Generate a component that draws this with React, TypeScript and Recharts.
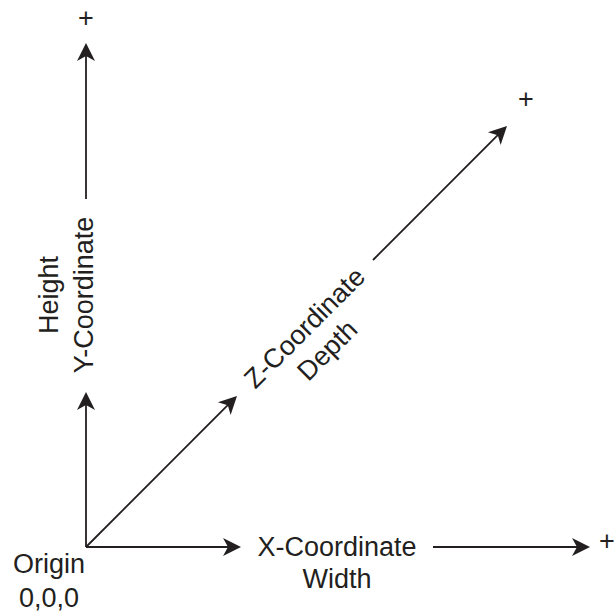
import React from 'react';
import { ReferenceLine, Scatter, ScatterChart, XAxis, YAxis } from 'recharts';

// diagram units: origin at 0,0, x grows right, y grows up
const xAxisArrows = [
  { from: { x: 0, y: 0 }, to: { x: 155, y: 0 } },
  { from: { x: 347, y: 0 }, to: { x: 504, y: 0 } },
];
const yAxisArrows = [
  { from: { x: 0, y: 0 }, to: { x: 0, y: 155 } },
  { from: { x: 0, y: 348 }, to: { x: 0, y: 504 } },
];
const zAxisArrows = [
  { from: { x: 0, y: 0 }, to: { x: 151, y: 151 } },
  { from: { x: 287, y: 287 }, to: { x: 421, y: 421 } },
];

const axisLabels = [
  { x: 251, y: -16, angle: 0, gap: 32, lines: ['X-Coordinate', 'Width'] },
  { x: -20, y: 252, angle: -90, gap: 35, lines: ['Height', 'Y-Coordinate'] },
  { x: 230, y: 208, angle: -45, gap: 32, lines: ['Z-Coordinate', 'Depth'] },
  { x: -37, y: -34, angle: 0, gap: 34, lines: ['Origin', '0,0,0'] },
];

const plusMarks = [
  { x: 521, y: 6 },
  { x: 0, y: 529 },
  { x: 440, y: 448 },
];

const INK = '#231f20';
const FONT = '"Liberation Sans", Arial, Helvetica, sans-serif';

const Arrow = (props: any) => {
  const { x1, y1, x2, y2 } = props;
  const ang = Math.atan2(y2 - y1, x2 - x1);
  const deg = (ang * 180) / Math.PI;
  // stop the shaft inside the head so it doesn't poke out of the tip
  const ex = x2 - Math.cos(ang) * 12;
  const ey = y2 - Math.sin(ang) * 12;
  return (
    <g>
      <line x1={x1} y1={y1} x2={ex} y2={ey} stroke={INK} strokeWidth={1.8} />
      <path
        d="M0,0 L-18,-9 L-13,0 L-18,9 Z"
        fill={INK}
        transform={`translate(${x2},${y2}) rotate(${deg})`}
      />
    </g>
  );
};

const LabelShape = (props: any) => {
  const { cx, cy, payload } = props;
  const n = payload.lines.length;
  return (
    <g transform={`translate(${cx},${cy}) rotate(${payload.angle})`}>
      {payload.lines.map((t: string, i: number) => (
        <text
          key={t}
          x={0}
          y={(i - (n - 1) / 2) * payload.gap}
          textAnchor="middle"
          dominantBaseline="central"
          fontFamily={FONT}
          fontSize={27}
          fill={INK}
        >
          {t}
        </text>
      ))}
    </g>
  );
};

const PlusShape = (props: any) => (
  <text
    x={props.cx}
    y={props.cy}
    textAnchor="middle"
    dominantBaseline="central"
    fontFamily={FONT}
    fontSize={27}
    fill={INK}
  >
    +
  </text>
);

export default function App() {
  const arrows = [...xAxisArrows, ...yAxisArrows, ...zAxisArrows];
  return (
    <div style={{ position: 'absolute', left: 0, top: 0, width: 614, height: 614, background: '#fff' }}>
      <ScatterChart width={614} height={614} margin={{ top: 0, right: 0, bottom: 0, left: 0 }}>
        <XAxis type="number" dataKey="x" domain={[-86, 528]} hide allowDataOverflow />
        <YAxis type="number" dataKey="y" domain={[-67, 547]} hide allowDataOverflow />
        {arrows.map((a, i) => (
          <ReferenceLine
            key={i}
            segment={[a.from, a.to]}
            ifOverflow="visible"
            shape={Arrow}
          />
        ))}
        <Scatter data={axisLabels} shape={LabelShape} isAnimationActive={false} />
        <Scatter data={plusMarks} shape={PlusShape} isAnimationActive={false} />
      </ScatterChart>
    </div>
  );
}
